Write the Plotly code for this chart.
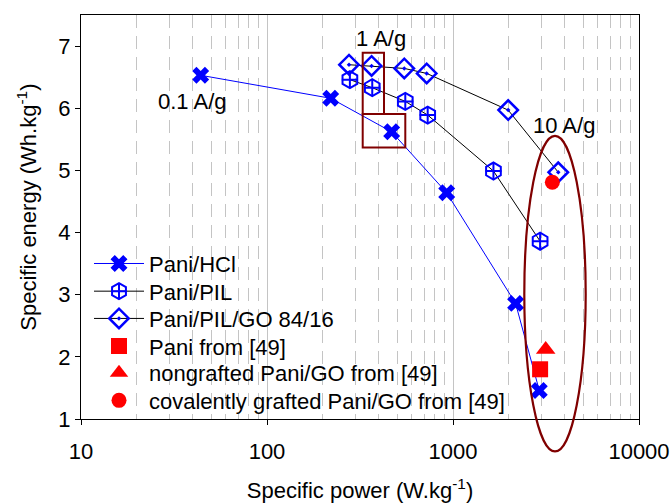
import plotly.graph_objects as go

# ---- data ----
hcl_power = [44, 220, 468, 925, 2170, 2910]
hcl_energy = [6.53, 6.16, 5.62, 4.64, 2.86, 1.46]

pil_power = [279, 368, 554, 731, 1650, 2940]
pil_energy = [6.46, 6.33, 6.11, 5.89, 4.99, 3.86]

go_power = [276, 365, 547, 722, 1980, 3680]
go_energy = [6.70, 6.68, 6.64, 6.56, 5.97, 4.97]

ref_pani_power = [2940]
ref_pani_energy = [1.80]
ref_nongraft_power = [3150]
ref_nongraft_energy = [2.12]
ref_graft_power = [3420]
ref_graft_energy = [4.81]

x_tick_vals = [10, 100, 1000, 10000]
x_tick_text = ["10", "100", "1000", "10000"]
y_tick_vals = [1, 2, 3, 4, 5, 6, 7]

FONT = "Liberation Sans, Arial, sans-serif"
FS = 22
BLUE = "#0000ff"
RED = "#ff0000"
DARKRED = "#800000"
GRID = "#c4c4c4"

# plot-area geometry in pixels (for paper-coordinate decorations)
L, R, T, B = 81, 639, 15, 419.5
def px(xp):
    return (xp - L) / (R - L)
def py(yp):
    return (B - yp) / (B - T)

# legend row centres (pixels) and legend left edge
legend_rows = [264, 291.7, 319, 346.7, 373.3, 401]
LEG_X = 89

fig = go.Figure()

fig.add_trace(go.Scatter(
    x=hcl_power, y=hcl_energy, mode="lines+markers", name="Pani/HCl",
    line=dict(color=BLUE, width=1), legend="legend",
    marker=dict(symbol="x", size=15, color=BLUE, line=dict(width=0)),
))
fig.add_trace(go.Scatter(
    x=pil_power, y=pil_energy, mode="lines+markers", name="Pani/PIL",
    line=dict(color="black", width=1), legend="legend2",
    marker=dict(symbol="hexagon-open", size=17, color=BLUE, line=dict(width=2, color=BLUE)),
))
fig.add_trace(go.Scatter(
    x=pil_power, y=pil_energy, mode="markers", name=" ", legend="legend7",
    marker=dict(symbol="cross-thin-open", size=11.5, color=BLUE, line=dict(width=2, color=BLUE)),
    hoverinfo="skip",
))
fig.add_trace(go.Scatter(
    x=go_power, y=go_energy, mode="lines+markers", name="Pani/PIL/GO 84/16",
    line=dict(color="black", width=1), legend="legend3",
    marker=dict(symbol="diamond-open-dot", size=15, color=BLUE, line=dict(width=2.5, color=BLUE)),
))
fig.add_trace(go.Scatter(
    x=ref_pani_power, y=ref_pani_energy, mode="markers", name="Pani from [49]",
    legend="legend4",
    marker=dict(symbol="square", size=16, color=RED, line=dict(width=0)),
))
fig.add_trace(go.Scatter(
    x=ref_nongraft_power, y=ref_nongraft_energy, mode="markers",
    name="nongrafted Pani/GO from [49]", legend="legend5",
    marker=dict(symbol="triangle-up", size=17, color=RED, line=dict(width=0)),
))
fig.add_trace(go.Scatter(
    x=ref_graft_power, y=ref_graft_energy, mode="markers",
    name="covalently grafted Pani/GO from [49]", legend="legend6",
    marker=dict(symbol="circle", size=15, color=RED, line=dict(width=0)),
))

minor_vals = [m * 10 ** d for d in range(1, 4) for m in range(2, 10)]

fig.update_xaxes(
    type="log", range=[1, 4], automargin=False,
    tickmode="array", tickvals=x_tick_vals, ticktext=x_tick_text,
    ticks="outside", ticklen=5, tickwidth=1, tickcolor="black",
    ticklabelstandoff=8,
    showline=True, linecolor="black", linewidth=1, mirror=True,
    showgrid=True, gridcolor=GRID, gridwidth=1,
    minor=dict(tickmode="array", tickvals=minor_vals, showgrid=True,
               gridcolor=GRID, gridwidth=1, griddash="13px,8px", ticks=""),
    zeroline=False,
    title=dict(text="Specific power (W.kg<sup>-1</sup>)", font=dict(size=FS, color="black"), standoff=20),
    tickfont=dict(size=FS, color="black"),
)
fig.update_yaxes(
    range=[1, 7.5], tickmode="array", tickvals=y_tick_vals, automargin=False,
    ticks="outside", ticklen=5, tickwidth=1, tickcolor="black",
    showline=True, linecolor="black", linewidth=1, mirror=True,
    showgrid=False, zeroline=False,
    tickfont=dict(size=FS, color="black"),
)

shapes = [
    dict(type="rect", xref="paper", yref="paper",
         x0=px(362.7), x1=px(384), y0=py(114), y1=py(52.7),
         line=dict(color=DARKRED, width=2)),
    dict(type="rect", xref="paper", yref="paper",
         x0=px(362.7), x1=px(405.3), y0=py(147.7), y1=py(114),
         line=dict(color=DARKRED, width=2)),
    dict(type="circle", xref="paper", yref="paper",
         x0=px(524.3), x1=px(585.7), y0=py(452), y1=py(136),
         line=dict(color=DARKRED, width=2.2)),
]

annotations = [
    dict(text="0.1 A/g", x=px(192), y=py(101.5), xref="paper", yref="paper",
         xanchor="center", yanchor="middle",
         showarrow=False, font=dict(size=FS, color="black")),
    dict(text="1 A/g", x=px(381), y=py(39), xref="paper", yref="paper",
         xanchor="center", yanchor="middle",
         showarrow=False, font=dict(size=FS, color="black")),
    dict(text="10 A/g", x=px(564), y=py(126), xref="paper", yref="paper",
         xanchor="center", yanchor="middle",
         showarrow=False, font=dict(size=FS, color="black")),
    dict(text="Specific energy (Wh.kg<sup>-1</sup>)", textangle=-90,
         x=px(27), y=py(208), xref="paper", yref="paper",
         xanchor="center", yanchor="middle",
         showarrow=False, font=dict(size=FS, color="black")),
]

def legend_box(row):
    return dict(x=px(LEG_X), y=py(row), xanchor="left", yanchor="middle",
                bgcolor="rgba(0,0,0,0)", borderwidth=0,
                font=dict(size=FS, color="black"), itemwidth=50)

fig.update_layout(
    width=670, height=503,
    margin=dict(l=L, r=670 - R, t=T, b=503 - B),
    paper_bgcolor="white", plot_bgcolor="white",
    font=dict(family=FONT, size=FS, color="black"),
    shapes=shapes, annotations=annotations,
    legend=legend_box(legend_rows[0]),
    legend2=legend_box(legend_rows[1]),
    legend3=legend_box(legend_rows[2]),
    legend4=legend_box(legend_rows[3]),
    legend5=legend_box(legend_rows[4]),
    legend6=legend_box(legend_rows[5]),
    legend7=legend_box(legend_rows[1]),
    showlegend=True,
)

fig.write_html("out.html")
